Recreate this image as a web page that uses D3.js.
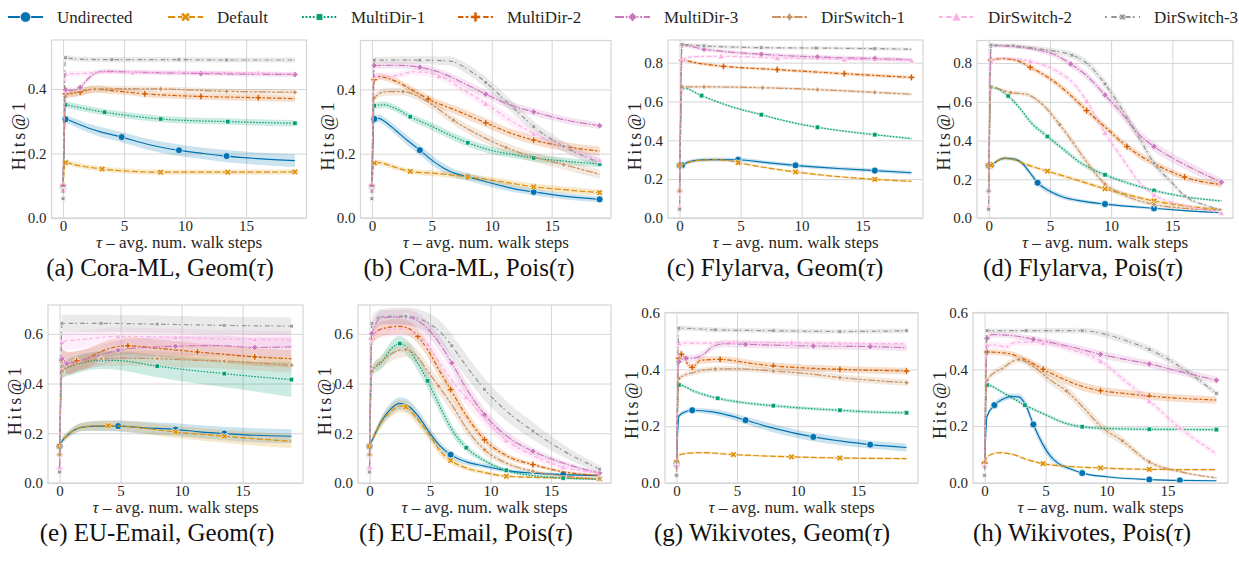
<!DOCTYPE html>
<html>
<head>
<meta charset="utf-8">
<script src="https://cdn.jsdelivr.net/npm/d3@7"></script>
<style>
  body { margin: 0; background: #fff; }
  svg text { font-family: "Liberation Serif", serif; }
</style>
</head>
<body>
<svg id="fig" width="1239" height="563"></svg>
<script>
// series names, colours, dash patterns and markers (seaborn colorblind defaults)
const seriesNames = ["Undirected", "Default", "MultiDir-1", "MultiDir-2", "MultiDir-3", "DirSwitch-1", "DirSwitch-2", "DirSwitch-3"];
const seriesColors = ["#0173b2", "#de8f05", "#029e73", "#d55e00", "#cc78bc", "#ca9161", "#fbafe4", "#949494"];
const seriesDashes = [[], [4, 1.5], [1, 1], [3, 1.25, 1.5, 1.25], [5, 1, 1, 1], [5, 1, 2, 1, 2, 1], [2, 2, 3, 1.5], [1, 2.5, 3, 1.2]];

const xTicks = [0, 5, 10, 15];

// each point: [tau, hits@1, half band width, marker shown]
const coraGeom = [
  [[0,0.097,0.01,1],[0.2,0.306,0.012,1],[1,0.295,0.013,0],[2,0.28,0.014,0],[3,0.268,0.015,0],[4.8,0.251,0.016,1],[7,0.228,0.017,0],[9.5,0.21,0.018,1],[11.5,0.2,0.018,0],[13.4,0.192,0.019,1],[16,0.184,0.019,0],[19,0.178,0.02,0]],
  [[0,0.099,0.008,1],[0.2,0.172,0.008,1],[1,0.165,0.008,0],[3.2,0.152,0.008,1],[5,0.146,0.008,0],[8,0.142,0.008,1],[13.5,0.142,0.008,1],[19,0.143,0.008,1]],
  [[0,0.09,0.008,1],[0.2,0.351,0.01,1],[1,0.345,0.01,0],[3.4,0.328,0.01,1],[5.5,0.317,0.01,0],[8,0.307,0.01,1],[10.5,0.302,0.01,0],[13.5,0.299,0.01,1],[16,0.296,0.01,0],[19,0.294,0.01,1]],
  [[0,0.1,0.008,1],[0.2,0.385,0.012,1],[1.4,0.39,0.012,1],[2.5,0.4,0.012,0],[4,0.395,0.01,0],[6.7,0.385,0.01,1],[9,0.38,0.01,0],[11.3,0.377,0.01,1],[16,0.373,0.01,1],[19,0.37,0.01,0]],
  [[0,0.1,0.008,1],[0.2,0.398,0.008,1],[0.8,0.395,0.008,0],[1.4,0.405,0.008,1],[2,0.43,0.008,0],[2.7,0.45,0.008,0],[3.5,0.455,0.007,0],[6,0.452,0.007,0],[11.3,0.448,0.007,1],[15,0.446,0.007,0],[19,0.445,0.007,1]],
  [[0,0.086,0.008,1],[0.2,0.377,0.012,1],[1.2,0.39,0.012,0],[2.6,0.4,0.01,1],[5,0.401,0.008,0],[8,0.4,0.008,1],[13.4,0.393,0.008,1],[19,0.39,0.008,1]],
  [[0,0.086,0.008,1],[0.2,0.447,0.01,1],[1.5,0.448,0.008,0],[3,0.452,0.006,0],[5.7,0.452,0.006,1],[9.5,0.452,0.006,1],[16,0.45,0.006,1],[19,0.447,0.006,0]],
  [[0,0.06,0.006,1],[0.2,0.497,0.008,1],[1,0.493,0.008,0],[4,0.491,0.008,1],[9.5,0.491,0.008,1],[13.4,0.49,0.008,1],[19,0.49,0.008,0]]
];

const coraPois = [
  [[0,0.097,0.01,1],[0.2,0.308,0.012,1],[0.6,0.31,0.012,0],[1,0.302,0.013,0],[2,0.272,0.014,0],[3,0.24,0.015,0],[4,0.211,0.015,1],[5,0.18,0.015,0],[6,0.155,0.014,0],[7,0.138,0.013,0],[8,0.128,0.012,1],[10,0.108,0.012,0],[12,0.09,0.011,0],[13.5,0.081,0.01,1],[16,0.068,0.01,0],[19,0.058,0.009,1]],
  [[0,0.099,0.008,1],[0.2,0.171,0.008,1],[0.6,0.172,0.008,0],[1.5,0.163,0.008,0],[3.2,0.145,0.008,1],[5.5,0.138,0.009,0],[8,0.128,0.01,1],[10.5,0.115,0.01,0],[13.5,0.097,0.01,1],[16,0.088,0.01,0],[19,0.079,0.01,1]],
  [[0,0.09,0.008,1],[0.2,0.349,0.01,1],[1,0.352,0.01,0],[2,0.34,0.01,0],[3.2,0.315,0.011,1],[5,0.285,0.012,0],[6.5,0.258,0.012,0],[8,0.234,0.012,1],[10,0.21,0.012,0],[12,0.196,0.011,0],[13.5,0.187,0.011,1],[16,0.177,0.011,0],[19,0.168,0.01,1]],
  [[0,0.1,0.008,1],[0.2,0.43,0.01,1],[0.5,0.44,0.01,0],[2,0.425,0.01,0],[3.5,0.395,0.011,0],[4.7,0.37,0.012,1],[7,0.335,0.013,0],[9.5,0.296,0.014,1],[11.5,0.265,0.014,0],[13.5,0.242,0.014,1],[16,0.223,0.014,0],[19,0.208,0.014,0]],
  [[0,0.1,0.008,1],[0.2,0.474,0.01,1],[2,0.475,0.01,0],[4,0.469,0.01,1],[6,0.448,0.011,0],[8,0.413,0.012,0],[9.5,0.385,0.012,1],[11.5,0.352,0.012,0],[13.5,0.33,0.012,1],[16,0.306,0.011,0],[19,0.287,0.01,1]],
  [[0,0.086,0.008,1],[0.2,0.374,0.012,1],[1.2,0.393,0.012,0],[2.6,0.393,0.012,1],[4,0.375,0.013,0],[5.5,0.34,0.014,0],[6.8,0.304,0.014,1],[9,0.257,0.015,0],[11.2,0.219,0.015,1],[13.5,0.19,0.015,0],[16,0.166,0.015,1],[19,0.136,0.014,0]],
  [[0,0.086,0.008,1],[0.2,0.443,0.01,1],[1.5,0.44,0.01,0],[3.5,0.455,0.01,0],[5.6,0.442,0.012,1],[7.5,0.402,0.014,0],[9.5,0.356,0.015,1],[11.5,0.305,0.016,0],[13.5,0.263,0.016,1],[16,0.22,0.015,0],[19,0.18,0.014,1]],
  [[0,0.06,0.006,1],[0.2,0.491,0.01,1],[4,0.491,0.012,1],[6.5,0.488,0.014,0],[8,0.462,0.016,0],[9.5,0.422,0.017,1],[11,0.37,0.018,0],[12.3,0.325,0.018,0],[13.5,0.284,0.018,1],[16,0.223,0.016,1],[19,0.172,0.014,0]]
];

const flyGeom = [
  [[0,0.271,0.008,1],[0.2,0.272,0.008,1],[0.6,0.285,0.01,0],[1.2,0.295,0.01,0],[2.5,0.301,0.01,0],[4.8,0.3,0.01,1],[7,0.286,0.01,0],[9.5,0.271,0.01,1],[13,0.255,0.01,0],[16,0.244,0.01,1],[19,0.233,0.01,0]],
  [[0,0.271,0.006,1],[0.2,0.272,0.006,0],[0.6,0.283,0.006,0],[1.5,0.297,0.006,0],[3,0.3,0.006,0],[4,0.296,0.006,0],[4.8,0.285,0.006,1],[7,0.26,0.006,0],[9.5,0.237,0.006,1],[13,0.213,0.006,0],[16,0.199,0.006,1],[19,0.189,0.006,0]],
  [[0,0.139,0.006,1],[0.2,0.671,0.006,1],[1.8,0.63,0.006,1],[4,0.578,0.006,0],[6.7,0.532,0.006,1],[9,0.495,0.006,0],[11.3,0.467,0.006,1],[13.5,0.447,0.006,0],[16,0.429,0.006,1],[19,0.409,0.006,0]],
  [[0,0.139,0.006,1],[0.2,0.812,0.008,1],[1.5,0.797,0.008,0],[3.6,0.781,0.008,1],[8,0.764,0.008,1],[13.5,0.743,0.009,1],[19,0.724,0.01,1]],
  [[0,0.139,0.006,1],[0.2,0.889,0.01,1],[2,0.869,0.01,1],[4,0.855,0.01,0],[6.7,0.843,0.01,1],[11.3,0.829,0.01,1],[16,0.821,0.01,1],[19,0.815,0.01,0]],
  [[0,0.139,0.006,1],[0.2,0.675,0.008,1],[2,0.675,0.008,1],[6.8,0.671,0.008,1],[11.3,0.661,0.008,1],[16,0.647,0.008,1],[19,0.637,0.008,0]],
  [[0,0.06,0.006,1],[0.2,0.812,0.008,1],[1,0.83,0.008,0],[3.4,0.833,0.008,1],[8,0.824,0.008,1],[13.5,0.817,0.008,1],[19,0.812,0.008,1]],
  [[0,0.045,0.006,1],[0.2,0.893,0.008,1],[2,0.886,0.008,1],[6.7,0.877,0.008,1],[11.2,0.875,0.008,1],[16,0.872,0.008,1],[19,0.869,0.008,0]]
];

const flyPois = [
  [[0,0.271,0.008,1],[0.2,0.272,0.008,1],[0.7,0.295,0.01,0],[1.3,0.308,0.01,0],[2,0.305,0.01,0],[2.7,0.285,0.012,0],[3.3,0.24,0.014,0],[4,0.182,0.015,1],[5,0.138,0.014,0],[6,0.11,0.012,0],[7.5,0.088,0.01,0],[9.5,0.072,0.008,1],[11.5,0.06,0.007,0],[13.5,0.05,0.006,1],[16,0.038,0.005,0],[19,0.027,0.005,0]],
  [[0,0.271,0.006,1],[0.2,0.272,0.006,1],[0.7,0.295,0.006,0],[1.3,0.31,0.006,0],[2,0.303,0.007,0],[3,0.278,0.008,0],[4.8,0.242,0.009,1],[7,0.2,0.01,0],[9.5,0.151,0.01,1],[11.5,0.118,0.01,0],[13.5,0.088,0.009,1],[16,0.063,0.008,0],[19,0.043,0.007,0]],
  [[0,0.139,0.006,1],[0.2,0.675,0.008,1],[1.6,0.63,0.01,1],[2.5,0.57,0.012,0],[3.5,0.49,0.013,0],[4.8,0.421,0.013,1],[6,0.36,0.013,0],[7.5,0.285,0.012,0],[9.5,0.223,0.01,1],[11.5,0.178,0.009,0],[13.5,0.142,0.008,1],[16,0.11,0.007,0],[19,0.088,0.006,0]],
  [[0,0.139,0.006,1],[0.2,0.815,0.008,1],[1,0.823,0.008,0],[2.2,0.815,0.01,0],[3.4,0.778,0.012,1],[5,0.72,0.015,0],[6.5,0.645,0.017,0],[8,0.555,0.018,1],[9.5,0.47,0.018,0],[11.3,0.369,0.018,1],[13,0.298,0.018,0],[14.5,0.25,0.017,0],[16,0.211,0.016,1],[19,0.172,0.014,0]],
  [[0,0.139,0.006,1],[0.2,0.889,0.008,1],[2,0.885,0.01,0],[4,0.868,0.012,0],[5.5,0.84,0.015,0],[6.7,0.795,0.018,1],[8,0.735,0.02,0],[9.5,0.635,0.022,1],[11,0.53,0.025,0],[12.3,0.43,0.025,0],[13.5,0.369,0.025,1],[15,0.31,0.025,0],[16.5,0.26,0.024,0],[19,0.185,0.022,1]],
  [[0,0.139,0.006,1],[0.2,0.675,0.008,1],[1.8,0.647,0.01,1],[3,0.64,0.012,0],[4.5,0.58,0.016,0],[5.8,0.482,0.02,1],[7,0.38,0.022,0],[8,0.29,0.022,0],[9.5,0.175,0.018,1],[11,0.12,0.014,0],[13.5,0.07,0.01,1],[16,0.05,0.008,0],[19,0.04,0.006,0]],
  [[0,0.06,0.006,1],[0.2,0.809,0.008,1],[1,0.825,0.008,0],[2.5,0.82,0.008,0],[3.4,0.809,0.01,1],[5.5,0.76,0.015,0],[7,0.69,0.018,0],[8,0.604,0.02,1],[9.5,0.44,0.022,1],[11,0.3,0.02,0],[12.3,0.185,0.016,0],[13.5,0.12,0.012,1],[16,0.065,0.008,0],[19,0.026,0.005,1]],
  [[0,0.045,0.006,1],[0.2,0.893,0.008,1],[2,0.889,0.01,1],[4.5,0.87,0.013,0],[6.8,0.841,0.018,1],[8,0.8,0.02,0],[9.5,0.692,0.024,1],[10.5,0.6,0.025,0],[11.5,0.5,0.025,0],[12.5,0.39,0.024,0],[13.5,0.283,0.022,1],[15,0.18,0.015,0],[16,0.113,0.012,1],[17.5,0.07,0.008,0],[19,0.043,0.006,0]]
];

const emailGeom = [
  [[0,0.148,0.01,1],[0.2,0.168,0.012,0],[0.6,0.19,0.013,0],[1.2,0.213,0.015,0],[2,0.226,0.017,0],[3,0.229,0.02,0],[4.8,0.229,0.022,1],[7,0.222,0.024,0],[9.5,0.215,0.025,1],[11.5,0.206,0.026,0],[13.5,0.199,0.027,1],[16,0.192,0.028,0],[19,0.188,0.028,0]],
  [[0,0.148,0.01,1],[0.2,0.17,0.012,0],[0.6,0.19,0.013,0],[1.2,0.213,0.015,0],[2,0.227,0.017,0],[4,0.231,0.02,1],[6,0.225,0.022,0],[9.5,0.205,0.024,1],[11.5,0.196,0.025,0],[13.5,0.188,0.026,1],[16,0.178,0.027,0],[19,0.168,0.028,0]],
  [[0,0.114,0.01,1],[0.2,0.45,0.03,1],[1,0.47,0.035,0],[2,0.485,0.035,0],[3.4,0.494,0.035,1],[5,0.492,0.038,0],[8,0.47,0.045,1],[10.5,0.455,0.05,0],[13.5,0.44,0.055,1],[16,0.428,0.06,0],[19,0.416,0.07,1]],
  [[0,0.114,0.01,1],[0.2,0.494,0.04,1],[0.8,0.482,0.045,0],[1.4,0.491,0.04,1],[2.2,0.5,0.04,0],[3,0.52,0.035,0],[4,0.54,0.035,0],[5.6,0.552,0.035,1],[8,0.542,0.035,0],[11.3,0.527,0.035,1],[13.5,0.518,0.035,0],[16,0.507,0.035,1],[19,0.5,0.035,0]],
  [[0,0.06,0.008,1],[0.2,0.5,0.04,1],[0.6,0.48,0.045,1],[1.5,0.49,0.04,0],[3,0.51,0.04,0],[4.8,0.534,0.04,1],[7,0.545,0.04,0],[9.5,0.55,0.04,1],[13,0.553,0.04,0],[16,0.545,0.04,1],[19,0.548,0.04,0]],
  [[0,0.114,0.01,1],[0.2,0.452,0.03,1],[1.5,0.48,0.03,0],[3.4,0.5,0.03,1],[5,0.502,0.03,0],[8,0.5,0.03,1],[10.5,0.495,0.03,0],[13.5,0.49,0.03,1],[16,0.483,0.03,0],[19,0.474,0.03,1]],
  [[0,0.064,0.008,1],[0.2,0.568,0.035,1],[2,0.578,0.035,0],[4.8,0.59,0.035,1],[9.5,0.586,0.035,1],[13,0.58,0.035,0],[16,0.578,0.035,1],[19,0.575,0.035,0]],
  [[0,0.044,0.006,1],[0.2,0.642,0.035,1],[3.4,0.642,0.035,1],[8,0.639,0.035,1],[13.5,0.634,0.035,1],[19,0.631,0.035,1]]
];

const emailPois = [
  [[0,0.148,0.01,1],[0.2,0.17,0.012,0],[1,0.25,0.02,0],[1.8,0.3,0.025,0],[2.5,0.32,0.025,0],[3.2,0.31,0.025,0],[4,0.27,0.025,0],[5,0.2,0.022,0],[5.8,0.15,0.018,0],[6.7,0.114,0.015,1],[8,0.085,0.012,0],[9.5,0.068,0.01,0],[11.3,0.05,0.008,0],[13.5,0.04,0.006,0],[16,0.034,0.005,1],[19,0.03,0.005,0]],
  [[0,0.148,0.01,1],[0.2,0.17,0.012,0],[1,0.245,0.02,0],[1.8,0.29,0.025,0],[2.5,0.31,0.025,0],[3,0.306,0.025,1],[4,0.255,0.025,0],[5,0.19,0.022,0],[5.8,0.13,0.018,0],[6.7,0.091,0.015,1],[8,0.06,0.01,0],[9.5,0.042,0.008,0],[11.3,0.027,0.006,1],[16,0.02,0.004,0],[19,0.017,0.004,1]],
  [[0,0.114,0.01,1],[0.2,0.45,0.02,1],[1,0.485,0.025,0],[1.8,0.54,0.03,0],[2.5,0.561,0.03,1],[3.2,0.54,0.03,0],[4,0.48,0.03,0],[4.8,0.411,0.03,1],[5.5,0.34,0.028,0],[6.3,0.26,0.025,0],[7,0.2,0.02,0],[8,0.142,0.015,1],[9.5,0.09,0.01,0],[11.3,0.051,0.008,1],[13.5,0.03,0.006,0],[16,0.02,0.005,1],[19,0.015,0.004,0]],
  [[0,0.114,0.01,1],[0.2,0.58,0.03,1],[1,0.62,0.03,0],[2.5,0.63,0.03,0],[3.3,0.62,0.03,0],[4,0.59,0.03,1],[5,0.52,0.03,0],[5.8,0.45,0.03,0],[6.7,0.376,0.028,1],[8,0.27,0.024,0],[9.5,0.174,0.018,1],[11.3,0.11,0.012,0],[13.5,0.074,0.008,1],[16,0.045,0.006,0],[19,0.03,0.005,0]],
  [[0,0.06,0.008,1],[0.2,0.601,0.03,1],[1,0.665,0.03,0],[3,0.668,0.03,1],[4.5,0.635,0.03,0],[5.8,0.56,0.03,0],[6.8,0.483,0.03,1],[8,0.38,0.028,0],[9.5,0.275,0.025,1],[11.3,0.19,0.02,0],[13.5,0.128,0.015,1],[16,0.08,0.01,0],[19,0.04,0.008,1]],
  [[0,0.114,0.01,1],[0.2,0.45,0.02,1],[1,0.49,0.025,0],[2,0.525,0.03,0],[3,0.537,0.03,1],[4,0.505,0.03,0],[4.8,0.45,0.03,0],[5.7,0.39,0.03,1],[7,0.3,0.028,0],[8,0.22,0.024,0],[9.5,0.134,0.018,1],[11.3,0.08,0.012,0],[13.5,0.047,0.008,1],[16,0.028,0.006,0],[19,0.017,0.005,1]],
  [[0,0.064,0.008,1],[0.2,0.581,0.03,1],[1,0.615,0.03,0],[3,0.62,0.03,0],[4.8,0.558,0.03,1],[6,0.47,0.03,0],[7,0.4,0.03,0],[8,0.346,0.03,1],[9.5,0.26,0.028,0],[11.3,0.172,0.022,1],[13.5,0.11,0.015,0],[16,0.064,0.01,1],[19,0.04,0.008,0]],
  [[0,0.044,0.006,1],[0.2,0.642,0.03,1],[1,0.67,0.03,0],[3,0.671,0.035,1],[4.8,0.645,0.04,0],[6,0.6,0.045,0],[6.8,0.552,0.045,1],[8,0.47,0.045,0],[9.5,0.377,0.045,1],[11.3,0.29,0.04,0],[13.5,0.209,0.035,1],[16,0.13,0.025,0],[19,0.056,0.015,1]]
];

const wikiGeom = [
  [[0,0.068,0.006,1],[0.2,0.235,0.008,0],[0.7,0.25,0.008,0],[1.3,0.256,0.008,1],[3,0.25,0.01,0],[4.5,0.236,0.012,0],[5.7,0.221,0.013,1],[8,0.193,0.015,0],[11.3,0.162,0.015,1],[13.5,0.148,0.015,0],[16,0.135,0.014,1],[19,0.125,0.014,0]],
  [[0,0.072,0.004,1],[0.2,0.098,0.004,0],[1,0.105,0.004,0],[2,0.107,0.004,0],[4.7,0.1,0.004,1],[9.5,0.092,0.004,1],[13.5,0.088,0.004,1],[19,0.086,0.004,0]],
  [[0,0.06,0.005,1],[0.2,0.345,0.006,1],[1.5,0.322,0.006,0],[3.4,0.298,0.006,1],[5.5,0.283,0.006,0],[8,0.272,0.006,1],[11,0.262,0.006,0],[13.5,0.256,0.006,1],[16,0.25,0.006,0],[19,0.247,0.006,1]],
  [[0,0.06,0.005,1],[0.2,0.439,0.01,1],[0.4,0.453,0.01,1],[0.9,0.42,0.012,0],[1.3,0.407,0.012,1],[2,0.432,0.012,0],[3.6,0.435,0.012,1],[6,0.422,0.012,0],[8,0.412,0.012,1],[11,0.404,0.012,0],[13.5,0.4,0.012,1],[19,0.394,0.012,1]],
  [[0,0.06,0.005,1],[0.2,0.427,0.012,1],[0.8,0.439,0.012,1],[1.5,0.44,0.012,0],[2.3,0.455,0.012,0],[3,0.48,0.012,0],[4,0.49,0.012,0],[5.7,0.488,0.012,1],[8,0.485,0.012,0],[11.3,0.482,0.012,1],[16,0.48,0.012,1],[19,0.476,0.012,0]],
  [[0,0.027,0.004,1],[0.2,0.368,0.008,1],[1.5,0.39,0.01,0],[3.2,0.401,0.01,1],[5,0.402,0.01,0],[8,0.394,0.01,1],[11,0.384,0.012,0],[13.5,0.371,0.012,1],[16,0.362,0.012,0],[19,0.353,0.012,1]],
  [[0,0.06,0.005,1],[0.2,0.492,0.01,1],[2,0.492,0.008,0],[4.7,0.495,0.008,1],[9.5,0.494,0.008,1],[13.5,0.492,0.008,1],[19,0.49,0.008,0]],
  [[0,0.027,0.004,1],[0.2,0.545,0.008,1],[3.2,0.539,0.008,1],[8,0.536,0.008,1],[13.5,0.533,0.008,1],[19,0.536,0.008,1]]
];

const wikiPois = [
  [[0,0.068,0.006,1],[0.2,0.235,0.008,0],[0.8,0.274,0.01,1],[1.5,0.295,0.01,0],[2.2,0.305,0.01,0],[2.8,0.303,0.012,0],[3.3,0.28,0.014,0],[4,0.206,0.016,1],[4.6,0.15,0.016,0],[5.3,0.1,0.014,0],[6,0.07,0.01,0],[7,0.05,0.006,0],[8,0.035,0.005,1],[10,0.022,0.004,0],[13.5,0.012,0.003,1],[16,0.009,0.003,1],[19,0.008,0.003,0]],
  [[0,0.07,0.004,1],[0.2,0.09,0.004,0],[0.7,0.103,0.004,0],[1.3,0.107,0.004,0],[2.5,0.098,0.004,0],[3.5,0.082,0.004,0],[4.8,0.068,0.004,1],[7,0.058,0.004,0],[9.5,0.053,0.004,1],[13.5,0.048,0.004,1],[19,0.047,0.004,0]],
  [[0,0.06,0.005,1],[0.2,0.345,0.006,1],[1.5,0.318,0.006,0],[3.3,0.274,0.006,1],[5,0.24,0.006,0],[6.5,0.212,0.006,0],[8,0.198,0.006,1],[10,0.192,0.006,0],[13.5,0.189,0.006,1],[19,0.188,0.006,1]],
  [[0,0.07,0.005,1],[0.2,0.461,0.01,1],[2,0.455,0.01,0],[3.5,0.43,0.012,0],[4.8,0.4,0.014,1],[6.5,0.365,0.015,0],[8,0.34,0.015,0],[9.5,0.325,0.015,1],[11.5,0.315,0.014,0],[13.5,0.306,0.014,1],[16,0.298,0.013,0],[19,0.292,0.013,0]],
  [[0,0.06,0.005,1],[0.2,0.509,0.01,1],[0.6,0.522,0.01,0],[2,0.52,0.01,0],[4,0.506,0.011,1],[7,0.48,0.012,0],[9.5,0.453,0.013,1],[11.5,0.435,0.013,0],[13.5,0.419,0.013,1],[16,0.392,0.013,0],[19,0.362,0.013,1]],
  [[0,0.06,0.005,1],[0.2,0.362,0.01,1],[1.5,0.405,0.012,0],[2.8,0.435,0.012,1],[4,0.41,0.015,0],[5.3,0.365,0.017,0],[6.7,0.324,0.018,1],[8,0.27,0.018,0],[9.5,0.2,0.017,0],[11.3,0.148,0.015,1],[13.5,0.074,0.01,1],[16,0.04,0.006,0],[19,0.018,0.004,0]],
  [[0,0.06,0.005,1],[0.2,0.486,0.012,1],[1,0.485,0.012,0],[1.7,0.478,0.012,0],[2.5,0.495,0.012,0],[4.8,0.494,0.012,1],[7,0.47,0.012,0],[9.5,0.429,0.013,1],[11.5,0.36,0.013,0],[13.5,0.289,0.013,1],[16,0.194,0.012,1],[19,0.103,0.012,0]],
  [[0,0.027,0.004,1],[0.2,0.536,0.008,1],[3.4,0.536,0.008,1],[8,0.536,0.01,1],[10,0.522,0.012,0],[12,0.495,0.013,0],[13.5,0.47,0.013,1],[16,0.41,0.012,0],[19,0.315,0.01,1]]
];

// panel layout: box = [left, top, right, bottom]
const panels = [
  {data: coraGeom,  box: [51.5, 40, 306.5, 218],  ymax: 0.552, yTicks: [0, 0.2, 0.4], label: "(a) Cora-ML, Geom", tx: 160, ty: 275.5},
  {data: coraPois,  box: [360.5, 40.5, 611, 218], ymax: 0.552, yTicks: [0, 0.2, 0.4], label: "(b) Cora-ML, Pois", tx: 469, ty: 275.5},
  {data: flyGeom,   box: [668, 40, 923, 218],     ymax: 0.9165, yTicks: [0, 0.2, 0.4, 0.6, 0.8], label: "(c) Flylarva, Geom", tx: 775, ty: 275.5},
  {data: flyPois,   box: [977, 40.5, 1233, 218],  ymax: 0.9165, yTicks: [0, 0.2, 0.4, 0.6, 0.8], label: "(d) Flylarva, Pois", tx: 1083, ty: 275.5},
  {data: emailGeom, box: [48, 305, 303, 483],     ymax: 0.716, yTicks: [0, 0.2, 0.4, 0.6], label: "(e) EU-Email, Geom", tx: 157, ty: 540.5},
  {data: emailPois, box: [358, 305, 611, 483],    ymax: 0.716, yTicks: [0, 0.2, 0.4, 0.6], label: "(f) EU-Email, Pois", tx: 466, ty: 540.5},
  {data: wikiGeom,  box: [665, 312.5, 918, 483],  ymax: 0.6, yTicks: [0, 0.2, 0.4, 0.6], label: "(g) Wikivotes, Geom", tx: 772, ty: 540.5},
  {data: wikiPois,  box: [973, 312.5, 1228, 483], ymax: 0.6, yTicks: [0, 0.2, 0.4, 0.6], label: "(h) Wikivotes, Pois", tx: 1082, ty: 540.5}
];

const svg = d3.select("#fig");
const serif = '"Liberation Serif", serif';
const gridColor = "#d5d5d5";
const lineW = 1.2;

function polyPath(pts) {
  return "M" + pts.map(p => p[0].toFixed(2) + "," + p[1].toFixed(2)).join("L") + "Z";
}
function regPoly(n, r, rot, inner) {
  const pts = [];
  const tot = inner ? 2 * n : n;
  for (let i = 0; i < tot; i++) {
    const a = rot * Math.PI / 180 + i * 2 * Math.PI / tot;
    const rr = inner && i % 2 ? r * inner : r;
    pts.push([rr * Math.sin(a), -rr * Math.cos(a)]);
  }
  return polyPath(pts);
}
function plusPts(s) {
  const u = s / 6;
  return [[-1,-3],[1,-3],[1,-1],[3,-1],[3,1],[1,1],[1,3],[-1,3],[-1,1],[-3,1],[-3,-1],[-1,-1]].map(p => [p[0]*u, p[1]*u]);
}
// marker path for series i with marker size s (matplotlib style)
function markerPath(i, s) {
  const r = s / 2;
  if (i === 0) return `M${r},0A${r},${r},0,1,1,${-r},0A${r},${r},0,1,1,${r},0Z`;
  if (i === 1) {
    const c = Math.SQRT1_2;
    return polyPath(plusPts(s * 1.05).map(p => [c*(p[0]-p[1]), c*(p[0]+p[1])]));
  }
  if (i === 2) return regPoly(4, r, 45);
  if (i === 3) return polyPath(plusPts(s * 1.05));
  if (i === 4) return regPoly(4, r, 0);
  if (i === 5) return regPoly(4, r, 0, 0.5);
  if (i === 6) return polyPath([[0, -r], [-r, r * 0.85], [r, r * 0.85]]);
  return regPoly(4, r, 45, 0.5);
}
const markerSize = [7, 6.5, 6.5, 6.5, 6.5, 6.5, 6.5, 6.5];

panels.forEach((p, pi) => {
  const [x0, y0, x1, y1] = p.box;
  const x = d3.scaleLinear().domain([-0.95, 19.95]).range([x0, x1]);
  const y = d3.scaleLinear().domain([0, p.ymax]).range([y1, y0]);
  const g = svg.append("g");

  // x axis + vertical grid
  const gx = g.append("g")
    .attr("transform", `translate(0,${y1})`)
    .call(d3.axisBottom(x).tickValues(xTicks).tickSizeInner(-(y1 - y0)).tickSizeOuter(0).tickPadding(2.5).tickFormat(d3.format("d")));
  // y axis + horizontal grid
  const gy = g.append("g")
    .attr("transform", `translate(${x0},0)`)
    .call(d3.axisLeft(y).tickValues(p.yTicks).tickSizeInner(-(x1 - x0)).tickSizeOuter(0).tickPadding(5).tickFormat(d3.format(".1f")));
  [gx, gy].forEach(a => {
    a.attr("font-family", serif).attr("font-size", 15);
    a.select(".domain").remove();
    a.selectAll("line").attr("stroke", gridColor).attr("stroke-width", 1);
    a.selectAll("text").attr("fill", "#262626").attr("font-family", serif).attr("font-size", 15);
  });

  // clip
  const clipId = "clip" + pi;
  g.append("clipPath").attr("id", clipId).append("rect")
    .attr("x", x0).attr("y", y0).attr("width", x1 - x0).attr("height", y1 - y0);
  const plot = g.append("g").attr("clip-path", `url(#${clipId})`);

  const area = d3.area().curve(d3.curveMonotoneX)
    .x(d => x(d[0])).y0(d => y(Math.max(0, d[1] - d[2]))).y1(d => y(d[1] + d[2]));
  const line = d3.line().curve(d3.curveMonotoneX)
    .x(d => x(d[0])).y(d => y(d[1]));

  p.data.forEach((pts, si) => {
    plot.append("path").attr("d", area(pts))
      .attr("fill", seriesColors[si]).attr("fill-opacity", 0.2).attr("stroke", "none");
  });
  p.data.forEach((pts, si) => {
    plot.append("path").attr("d", line(pts))
      .attr("fill", "none").attr("stroke", seriesColors[si]).attr("stroke-width", lineW)
      .attr("stroke-dasharray", seriesDashes[si].map(v => v * 1.5).join(","));
    plot.selectAll(null).data(pts.filter(d => d[3])).join("path")
      .attr("transform", d => `translate(${x(d[0])},${y(d[1])})`)
      .attr("d", markerPath(si, markerSize[si]))
      .attr("fill", seriesColors[si]).attr("stroke", "#fff").attr("stroke-width", 0.7);
  });

  // frame
  g.append("rect").attr("x", x0).attr("y", y0).attr("width", x1 - x0).attr("height", y1 - y0)
    .attr("fill", "none").attr("stroke", gridColor).attr("stroke-width", 1.2);

  // axis labels
  const xl = g.append("text").attr("x", (x0 + x1) / 2).attr("y", y1 + 29.5)
    .attr("text-anchor", "middle").attr("font-size", 17).attr("font-family", serif).attr("fill", "#262626");
  xl.append("tspan").attr("font-style", "italic").text("τ");
  xl.append("tspan").text(" – avg. num. walk steps");
  g.append("text").attr("transform", `translate(${x0 - 27},${(y0 + y1) / 2 + 6}) rotate(-90)`)
    .attr("text-anchor", "middle").attr("font-size", 18).attr("letter-spacing", 2.5)
    .attr("font-family", serif).attr("fill", "#262626").text("Hits@1");

  // subfigure caption
  const cap = g.append("text").attr("x", p.tx).attr("y", p.ty)
    .attr("text-anchor", "middle").attr("font-size", 25).attr("font-family", serif).attr("fill", "#111");
  cap.append("tspan").text(p.label + "(");
  cap.append("tspan").attr("font-style", "italic").text("τ");
  cap.append("tspan").text(")");
});

// legend
const legendX = [8, 168, 302, 458, 615, 772, 939, 1105];
const legend = svg.append("g");
seriesNames.forEach((name, i) => {
  const lx = legendX[i];
  const lg = legend.append("g").attr("transform", `translate(${lx},17)`);
  lg.append("line").attr("x1", 0).attr("x2", 35).attr("y1", 0).attr("y2", 0)
    .attr("stroke", seriesColors[i]).attr("stroke-width", 1.8)
    .attr("stroke-dasharray", seriesDashes[i].map(v => v * 1.8).join(","));
  lg.append("path").attr("transform", "translate(17.5,0)")
    .attr("d", markerPath(i, i === 0 ? 10.5 : 9.5))
    .attr("fill", seriesColors[i]).attr("stroke", "#fff").attr("stroke-width", 0.8);
  lg.append("text").attr("x", 49).attr("y", 5.5).attr("font-size", 17)
    .attr("font-family", serif).attr("fill", "#262626").text(name);
});
</script>
</body>
</html>
